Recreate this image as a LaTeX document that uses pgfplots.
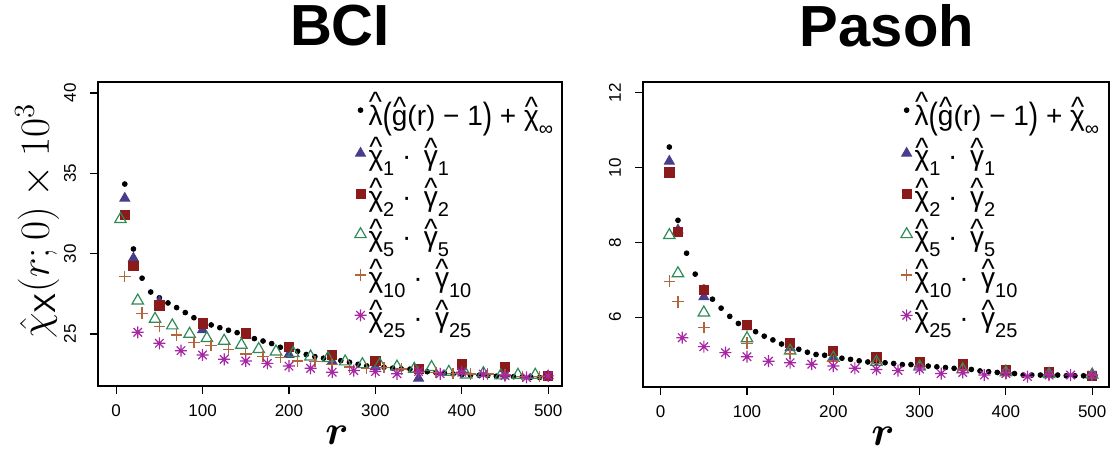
\documentclass[border=0pt]{standalone}
\usepackage{fontspec}
\setmainfont{Liberation Sans}
\usepackage{pgfplots}
\pgfplotsset{compat=1.18}
\usepackage{bm}
\usepackage{graphicx}
\definecolor{cOne}{HTML}{483D8B}
\definecolor{cTwo}{HTML}{8B1A1A}
\definecolor{cFive}{HTML}{2E8B57}
\definecolor{cTen}{HTML}{B0653A}
\definecolor{cTwf}{HTML}{A626A4}
\pgfdeclareplotmark{rast}{%
  \pgfpathmoveto{\pgfqpoint{-\pgfplotmarksize}{0pt}}\pgfpathlineto{\pgfqpoint{\pgfplotmarksize}{0pt}}%
  \pgfpathmoveto{\pgfqpoint{0pt}{-\pgfplotmarksize}}\pgfpathlineto{\pgfqpoint{0pt}{\pgfplotmarksize}}%
  \pgfpathmoveto{\pgfqpoint{-0.707\pgfplotmarksize}{-0.707\pgfplotmarksize}}\pgfpathlineto{\pgfqpoint{0.707\pgfplotmarksize}{0.707\pgfplotmarksize}}%
  \pgfpathmoveto{\pgfqpoint{-0.707\pgfplotmarksize}{0.707\pgfplotmarksize}}\pgfpathlineto{\pgfqpoint{0.707\pgfplotmarksize}{-0.707\pgfplotmarksize}}%
  \pgfusepathqstroke}
\newcommand{\rh}[1]{\leavevmode\setbox0\hbox{#1}\rlap{\hbox to\wd0{\hss\raisebox{\dimexpr\ht0+1.5pt-0.33em\relax}{\textasciicircum}\hss}}\box0}
\newcommand{\sub}[1]{\raisebox{-0.35em}{\fontsize{10}{12}\selectfont #1}}
\newcommand{\bp}[1]{\raisebox{-0.12em}{\scalebox{1}[1.3]{#1}}}
\pgfplotsset{rstyle/.style={
  scale only axis,
  axis line style={line width=0.6pt},
  every tick/.style={line width=0.6pt, black},
  tick align=outside, major tick length=4pt,
  xtick pos=left, ytick pos=left,
  xtick={0,100,200,300,400,500},
  tick label style={font=\fontsize{8.5}{10}\selectfont},
  /pgf/number format/assume math mode=true,
  yticklabel style={rotate=90, anchor=south},
  yticklabel shift=3.5pt,
  xticklabel style={anchor=north},
  xticklabel shift=2pt,
  title style={font=\fontsize{29}{32}\selectfont\bfseries, anchor=base, yshift=0pt, inner sep=0pt},
  xlabel style={font=\fontsize{20}{24}\selectfont, anchor=base},
  legend style={draw=none, fill=none, at={(axis description cs:0.552,0.975)}, anchor=north west,
    font=\fontsize{14}{16}\selectfont, row sep=2.7pt, inner sep=0pt,
    nodes={inner sep=1pt}},
  legend cell align=left,
  legend image code/.code={\draw[mark repeat=2,mark phase=2,##1] plot coordinates {(0pt,0pt)(2.5pt,0pt)(5pt,0pt)};},
  pdot/.style={only marks, mark=*, mark size=1.2pt, black},
  pone/.style={only marks, mark=triangle*, mark size=2.9pt, color=cOne},
  ptwo/.style={only marks, mark=square*, mark size=2.3pt, color=cTwo},
  pfive/.style={only marks, mark=triangle, mark size=3.3pt, color=cFive, mark options={line width=0.6pt}},
  pten/.style={only marks, mark=+, mark size=2.9pt, color=cTen, mark options={line width=0.7pt}},
  ptwf/.style={only marks, mark=rast, mark size=3pt, color=cTwf, mark options={line width=0.6pt}},
}}
\begin{document}
\begin{tikzpicture}
\useasboundingbox (0pt,0pt) rectangle (556pt,226pt);
% ---------------- BCI ----------------
\begin{axis}[rstyle, at={(49pt,33pt)}, anchor=south west, width=232pt, height=152pt,
  xmin=-21, xmax=516, ymin=21.76, ymax=40.68, ytick={25,30,35,40},
  title={BCI}, title style={at={(axis description cs:0.5216,1.079)}},
  xlabel={$\bm{r}$}, xlabel style={at={(axis description cs:0.515,-0.194)}},
  ylabel={$\hat{\chi}_{\mathrm{X}}(r;0)\times 10^3$},
  ylabel style={font=\fontsize{21.5}{24}\selectfont, at={(axis description cs:-0.131,0.543)}, anchor=center},
]
\addplot[pdot] coordinates {(10,34.33)(20,30.29)(30,28.47)(40,27.61)(50,27.25)(60,26.93)(70,26.64)(80,26.33)(90,26.01)(100,25.78)
(110,25.56)(120,25.39)(130,25.23)(140,25.08)(150,24.90)(160,24.71)(170,24.56)(180,24.40)(190,24.17)(200,24.05)
(210,23.92)(220,23.72)(230,23.59)(240,23.49)(250,23.42)(260,23.34)(270,23.24)(280,23.11)(290,23.01)(300,22.97)
(310,22.93)(320,22.87)(330,22.83)(340,22.81)(350,22.72)(360,22.65)(370,22.59)(380,22.55)(390,22.51)(400,22.47)
(410,22.43)(420,22.43)(430,22.41)(440,22.37)(450,22.36)(460,22.34)(470,22.33)(480,22.31)(490,22.29)(500,22.28)};
\addlegendentry{\rh{λ}\bp{(}\rh{g}(r) − 1\bp{)} + \rh{χ}\sub{∞}}
\addplot[pone] coordinates {(10,33.44)(20,29.71)(50,27.01)(100,25.25)(150,24.95)(200,23.72)(250,23.28)(300,22.95)(350,22.24)(400,22.68)(450,22.50)(500,22.39)};
\addlegendentry{\rh{χ}\sub{1} · \,\rh{γ}\sub{1}}
\addplot[ptwo] coordinates {(10,32.41)(20,29.25)(50,26.78)(100,25.66)(150,25.04)(200,24.18)(250,23.69)(300,23.32)(350,22.80)(400,23.11)(450,22.93)(500,22.39)};
\addlegendentry{\rh{χ}\sub{2} · \,\rh{γ}\sub{2}}
\addplot[pfive] coordinates {(5,32.14)(25,27.07)(45,25.93)(65,25.52)(85,25.00)(105,24.73)(125,24.57)(145,24.32)(165,24.05)(185,23.90)
(205,23.80)(225,23.59)(245,23.49)(265,23.28)(285,23.11)(305,23.10)(325,22.96)(345,22.82)(365,22.93)(385,22.63)
(405,22.47)(425,22.55)(445,22.41)(465,22.45)(485,22.45)};
\addlegendentry{\rh{χ}\sub{5} · \,\rh{γ}\sub{5}}
\addplot[pten] coordinates {(10,28.57)(30,26.29)(50,25.46)(70,24.94)(90,24.48)(110,24.27)(130,24.05)(150,23.76)(170,23.59)(190,23.53)
(210,23.32)(230,23.28)(250,23.10)(270,22.95)(290,22.85)(310,22.92)(330,22.82)(350,22.60)(370,22.60)(390,22.55)
(410,22.50)(430,22.50)(450,22.45)(470,22.35)(490,22.35)};
\addlegendentry{\rh{χ}\sub{10} · \,\rh{γ}\sub{10}}
\addplot[ptwf] coordinates {(25,25.10)(50,24.42)(75,23.96)(100,23.69)(125,23.42)(150,23.32)(175,23.17)(200,23.00)(225,22.86)(250,22.62)
(275,22.72)(300,22.66)(325,22.52)(350,22.66)(375,22.52)(400,22.62)(425,22.50)(450,22.41)(475,22.29)(500,22.39)};
\addlegendentry{\rh{χ}\sub{25} · \,\rh{γ}\sub{25}}
\end{axis}
% ---------------- Pasoh ----------------
\begin{axis}[rstyle, at={(321.5pt,32.5pt)}, anchor=south west, width=233pt, height=152.5pt,
  xmin=-20.5, xmax=519.5, ymin=4.13, ymax=12.29, ytick={6,8,10,12},
  title={Pasoh}, title style={at={(axis description cs:0.5236,1.078)}},
  xlabel={$\bm{r}$}, xlabel style={at={(axis description cs:0.515,-0.193)}},
]
\addplot[pdot] coordinates {(10,10.55)(20,8.59)(30,7.71)(40,7.15)(50,6.80)(60,6.48)(70,6.24)(80,6.02)(90,5.83)(100,5.72)
(110,5.61)(120,5.49)(130,5.39)(140,5.28)(150,5.21)(160,5.14)(170,5.06)(180,5.00)(190,4.98)(200,4.94)
(210,4.90)(220,4.87)(230,4.83)(240,4.80)(250,4.79)(260,4.78)(270,4.76)(280,4.73)(290,4.73)(300,4.71)
(310,4.69)(320,4.67)(330,4.65)(340,4.63)(350,4.62)(360,4.60)(370,4.56)(380,4.54)(390,4.52)(400,4.50)
(410,4.49)(420,4.45)(430,4.45)(440,4.45)(450,4.45)(460,4.45)(470,4.43)(480,4.43)(490,4.43)(500,4.43)};
\addlegendentry{\rh{λ}\bp{(}\rh{g}(r) − 1\bp{)} + \rh{χ}\sub{∞}}
\addplot[pone] coordinates {(10,10.17)(20,8.33)(50,6.54)(100,5.74)(150,5.18)(200,4.91)(250,4.88)(300,4.75)(350,4.68)(400,4.57)(450,4.50)(500,4.47)};
\addlegendentry{\rh{χ}\sub{1} · \,\rh{γ}\sub{1}}
\addplot[ptwo] coordinates {(10,9.87)(20,8.28)(50,6.72)(100,5.79)(150,5.30)(200,5.10)(250,4.94)(300,4.79)(350,4.74)(400,4.58)(450,4.54)(500,4.43)};
\addlegendentry{\rh{χ}\sub{2} · \,\rh{γ}\sub{2}}
\addplot[pfive] coordinates {(10,8.19)(20,7.17)(50,6.12)(100,5.43)(150,5.10)(200,4.91)(250,4.80)(300,4.67)(350,4.60)(400,4.52)(450,4.47)(500,4.46)};
\addlegendentry{\rh{χ}\sub{5} · \,\rh{γ}\sub{5}}
\addplot[pten] coordinates {(10,6.96)(20,6.41)(50,5.72)(100,5.30)(150,5.03)(200,4.83)(250,4.76)(300,4.65)(350,4.58)(400,4.50)(450,4.47)(500,4.45)};
\addlegendentry{\rh{χ}\sub{10} · \,\rh{γ}\sub{10}}
\addplot[ptwf] coordinates {(25,5.45)(50,5.21)(75,5.05)(100,4.94)(125,4.82)(150,4.78)(175,4.74)(200,4.69)(225,4.63)(250,4.60)
(275,4.57)(300,4.61)(325,4.49)(350,4.52)(375,4.45)(400,4.49)(425,4.41)(450,4.45)(475,4.45)(500,4.45)};
\addlegendentry{\rh{χ}\sub{25} · \,\rh{γ}\sub{25}}
\end{axis}
\end{tikzpicture}
\end{document}
